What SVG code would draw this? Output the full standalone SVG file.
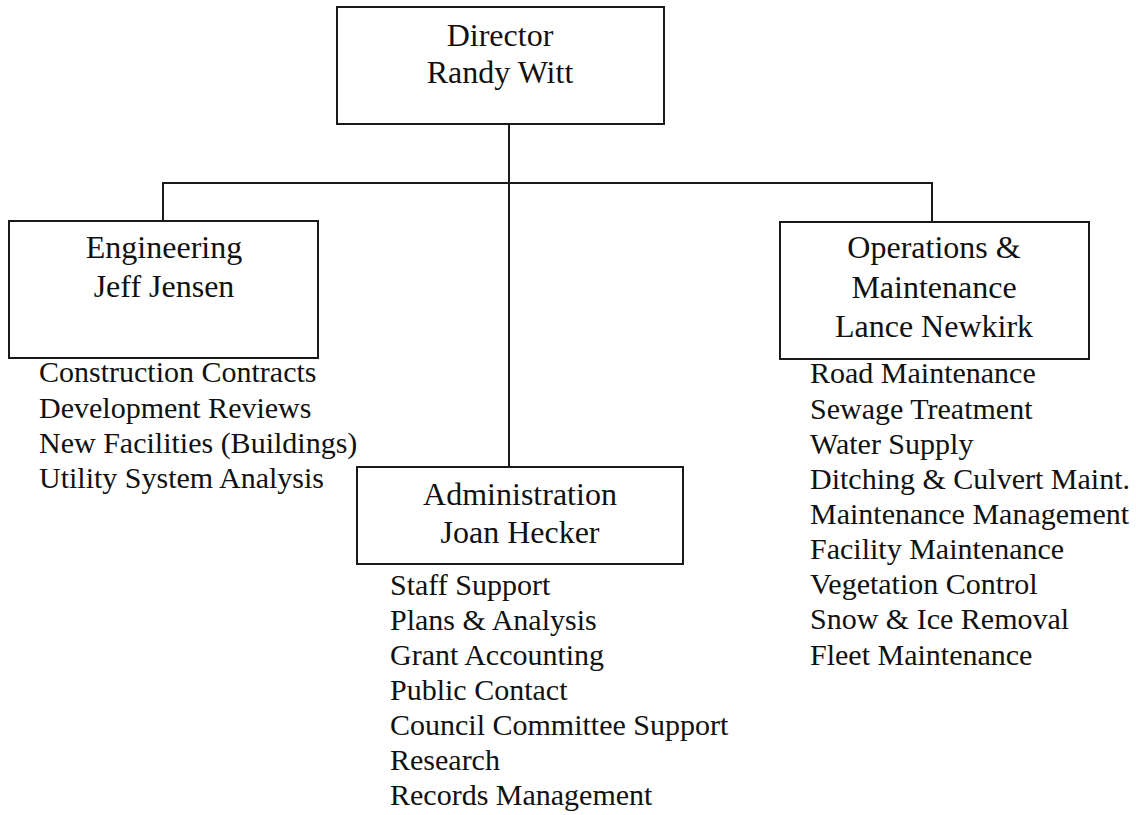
<svg xmlns="http://www.w3.org/2000/svg" width="1136" height="815" viewBox="0 0 1136 815">
<style>
.box{fill:#fff;stroke:#1a1a1a;stroke-width:2}
.ln{fill:none;stroke:#1a1a1a;stroke-width:2}
.h{font-family:"Liberation Serif","Times New Roman",serif;font-size:32px;fill:#111;text-anchor:middle}
.l{font-family:"Liberation Serif","Times New Roman",serif;font-size:30px;fill:#111}
</style>
<rect width="1136" height="815" fill="#fff"/>
<g id="connectors">
<path class="ln" d="M509,124 V467"/>
<path class="ln" d="M163,221 V183 H932 V222"/>
</g>
<g id="director">
<rect class="box" x="337" y="7" width="327" height="117"/>
<text class="h" x="500" y="46">Director</text>
<text class="h" x="500" y="83">Randy Witt</text>
</g>
<g id="engineering">
<rect class="box" x="9" y="221" width="309" height="137"/>
<text class="h" x="164" y="258">Engineering</text>
<text class="h" x="164" y="297">Jeff Jensen</text>
<text class="l" x="39" y="382">Construction Contracts</text>
<text class="l" x="39" y="417.5">Development Reviews</text>
<text class="l" x="39" y="453">New Facilities (Buildings)</text>
<text class="l" x="39" y="488">Utility System Analysis</text>
</g>
<g id="operations">
<rect class="box" x="780" y="222" width="309" height="137"/>
<text class="h" x="934" y="258">Operations &amp;</text>
<text class="h" x="934" y="298">Maintenance</text>
<text class="h" x="934" y="337">Lance Newkirk</text>
<text class="l" x="810" y="383">Road Maintenance</text>
<text class="l" x="810" y="419">Sewage Treatment</text>
<text class="l" x="810" y="454">Water Supply</text>
<text class="l" x="810" y="489">Ditching &amp; Culvert Maint.</text>
<text class="l" x="810" y="524">Maintenance Management</text>
<text class="l" x="810" y="559">Facility Maintenance</text>
<text class="l" x="810" y="594">Vegetation Control</text>
<text class="l" x="810" y="629">Snow &amp; Ice Removal</text>
<text class="l" x="810" y="665">Fleet Maintenance</text>
</g>
<g id="administration">
<rect class="box" x="357" y="467" width="326" height="97"/>
<text class="h" x="520" y="505">Administration</text>
<text class="h" x="520" y="543">Joan Hecker</text>
<text class="l" x="390" y="595">Staff Support</text>
<text class="l" x="390" y="630">Plans &amp; Analysis</text>
<text class="l" x="390" y="665">Grant Accounting</text>
<text class="l" x="390" y="700">Public Contact</text>
<text class="l" x="390" y="735">Council Committee Support</text>
<text class="l" x="390" y="770">Research</text>
<text class="l" x="390" y="805">Records Management</text>
</g>
</svg>
